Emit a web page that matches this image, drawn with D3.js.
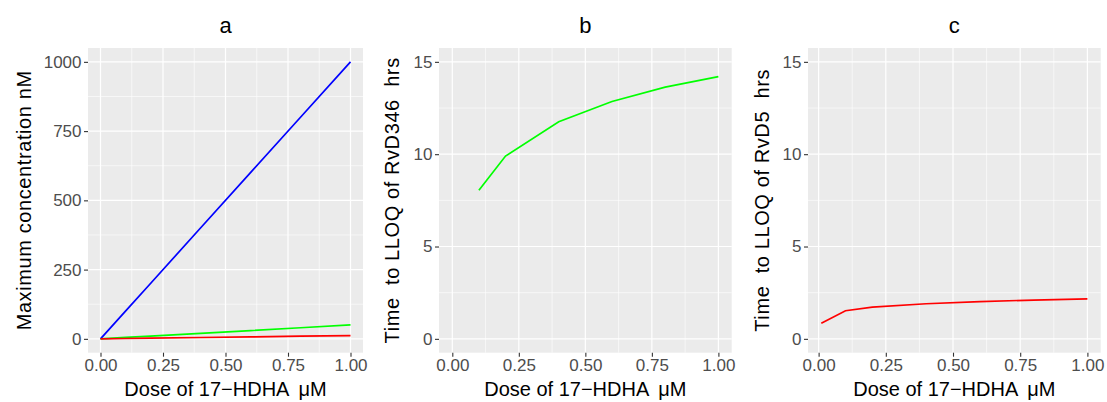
<!DOCTYPE html>
<html>
<head>
<meta charset="utf-8">
<script src="https://cdn.jsdelivr.net/npm/d3@7"></script>
<style>
body { margin: 0; background: #fff; }
text { font-family: "Liberation Sans", Arial, sans-serif; }
</style>
</head>
<body>
<script>
// data
var doses = [0, 0.1, 0.2, 0.4, 0.6, 0.8, 1.0];
var maxConcBlue = [0, 100, 200, 400, 600, 800, 1000];
var maxConcGreen = [0, 5, 10, 20, 30, 40, 50.5];
var maxConcRed = [0, 1.2, 2.4, 4.8, 7.2, 9.6, 12];

var rvd346Doses = [0.1, 0.2, 0.4, 0.6, 0.8, 1.0];
var rvd346Time = [8.05, 9.9, 11.76, 12.85, 13.63, 14.2];

var rvd5Doses = [0.01, 0.1, 0.2, 0.4, 0.6, 0.8, 1.0];
var rvd5Time = [0.85, 1.52, 1.72, 1.9, 2.02, 2.1, 2.17];

var doseTicks = [0, 0.25, 0.5, 0.75, 1];
var concTicks = [0, 250, 500, 750, 1000];
var timeTicks = [0, 5, 10, 15];

var width = 1107, height = 402,
	plotTop = 48, plotBottom = 352.7;

var svg = d3.select('body')
	.append('svg')
	.attr('width', width)
	.attr('height', height);

// ggplot style 5% expansion
function expand(lo, hi) {
	var pad = (hi - lo) * 0.05;
	return [lo - pad, hi + pad];
}

function minors(t) {
	var m = [];
	for (var i = 0; i < t.length - 1; i++) m.push((t[i] + t[i + 1]) / 2);
	return m;
}

function drawPanel(p) {
	var x = d3.scaleLinear().domain(p.xDomain).range([p.left, p.right]);
	var y = d3.scaleLinear().domain(p.yDomain).range([plotBottom, plotTop]);
	var g = svg.append('g');

	g.append('rect')
		.attr('x', p.left).attr('y', plotTop)
		.attr('width', p.right - p.left).attr('height', plotBottom - plotTop)
		.attr('fill', '#EBEBEB');

	// minor grid
	g.selectAll('.xmin').data(minors(doseTicks)).enter().append('line')
		.attr('x1', d => x(d)).attr('x2', d => x(d))
		.attr('y1', plotTop).attr('y2', plotBottom)
		.attr('stroke', '#fff').attr('stroke-width', 0.6);
	g.selectAll('.ymin').data(minors(p.yTicks)).enter().append('line')
		.attr('x1', p.left).attr('x2', p.right)
		.attr('y1', d => y(d)).attr('y2', d => y(d))
		.attr('stroke', '#fff').attr('stroke-width', 0.6);
	// major grid
	g.selectAll('.xmaj').data(doseTicks).enter().append('line')
		.attr('x1', d => x(d)).attr('x2', d => x(d))
		.attr('y1', plotTop).attr('y2', plotBottom)
		.attr('stroke', '#fff').attr('stroke-width', 1.2);
	g.selectAll('.ymaj').data(p.yTicks).enter().append('line')
		.attr('x1', p.left).attr('x2', p.right)
		.attr('y1', d => y(d)).attr('y2', d => y(d))
		.attr('stroke', '#fff').attr('stroke-width', 1.2);

	var line = d3.line()
		.x(d => x(d[0]))
		.y(d => y(d[1]));

	p.series.forEach(function(s) {
		g.append('path')
			.datum(d3.zip(s.x, s.y))
			.attr('d', line)
			.attr('fill', 'none')
			.attr('stroke', s.color)
			.attr('stroke-width', 1.7);
	});

	// axes
	var xAxis = g.append('g')
		.attr('transform', 'translate(0,' + plotBottom + ')')
		.call(d3.axisBottom(x).tickValues(doseTicks).tickSize(4).tickPadding(2.5)
			.tickFormat(d3.format('.2f')));
	var yAxis = g.append('g')
		.attr('transform', 'translate(' + p.left + ',0)')
		.call(d3.axisLeft(y).tickValues(p.yTicks).tickSize(4).tickPadding(2.5)
			.tickFormat(d3.format('d')));
	[xAxis, yAxis].forEach(function(a) {
		a.select('.domain').remove();
		a.selectAll('line').attr('stroke', '#333').attr('stroke-width', 1.1);
		a.selectAll('text')
			.attr('fill', '#4D4D4D')
			.style('font-size', '17px')
			.style('font-family', '"Liberation Sans", Arial, sans-serif');
	});

	// titles
	g.append('text')
		.attr('x', (p.left + p.right) / 2).attr('y', 33)
		.attr('text-anchor', 'middle')
		.style('font-size', '22px')
		.text(p.title);

	var xt = g.append('text')
		.attr('x', (p.left + p.right) / 2).attr('y', 396)
		.attr('text-anchor', 'middle')
		.style('font-size', '20px');
	xt.append('tspan').text('Dose of 17\u2212HDHA');
	xt.append('tspan').attr('dx', 9).text('\u03BCM');

	g.append('text')
		.attr('transform', 'translate(' + p.yTitleX + ',' + ((plotTop + plotBottom) / 2) + ') rotate(-90)')
		.attr('text-anchor', 'middle')
		.style('font-size', '20px')
		.style('letter-spacing', '0.6px')
		.style('white-space', 'pre')
		.text(p.yTitle);
}

drawPanel({
	title: 'a', left: 88, right: 363, yTitleX: 31,
	xDomain: expand(0, 1), yDomain: expand(0, 1000), yTicks: concTicks,
	yTitle: 'Maximum concentration nM',
	series: [
		{x: doses, y: maxConcBlue, color: '#0000FF'},
		{x: doses, y: maxConcGreen, color: '#00FF00'},
		{x: doses, y: maxConcRed, color: '#FF0000'}
	]
});

drawPanel({
	title: 'b', left: 439, right: 731.7, yTitleX: 399,
	xDomain: expand(0, 1), yDomain: expand(0, 15), yTicks: timeTicks,
	yTitle: 'Time  to LLOQ of RvD346  hrs',
	series: [{x: rvd346Doses, y: rvd346Time, color: '#00FF00'}]
});

drawPanel({
	title: 'c', left: 808, right: 1100.7, yTitleX: 769,
	xDomain: expand(0.01, 1), yDomain: expand(0, 15), yTicks: timeTicks,
	yTitle: 'Time  to LLOQ of RvD5  hrs',
	series: [{x: rvd5Doses, y: rvd5Time, color: '#FF0000'}]
});
</script>
</body>
</html>
